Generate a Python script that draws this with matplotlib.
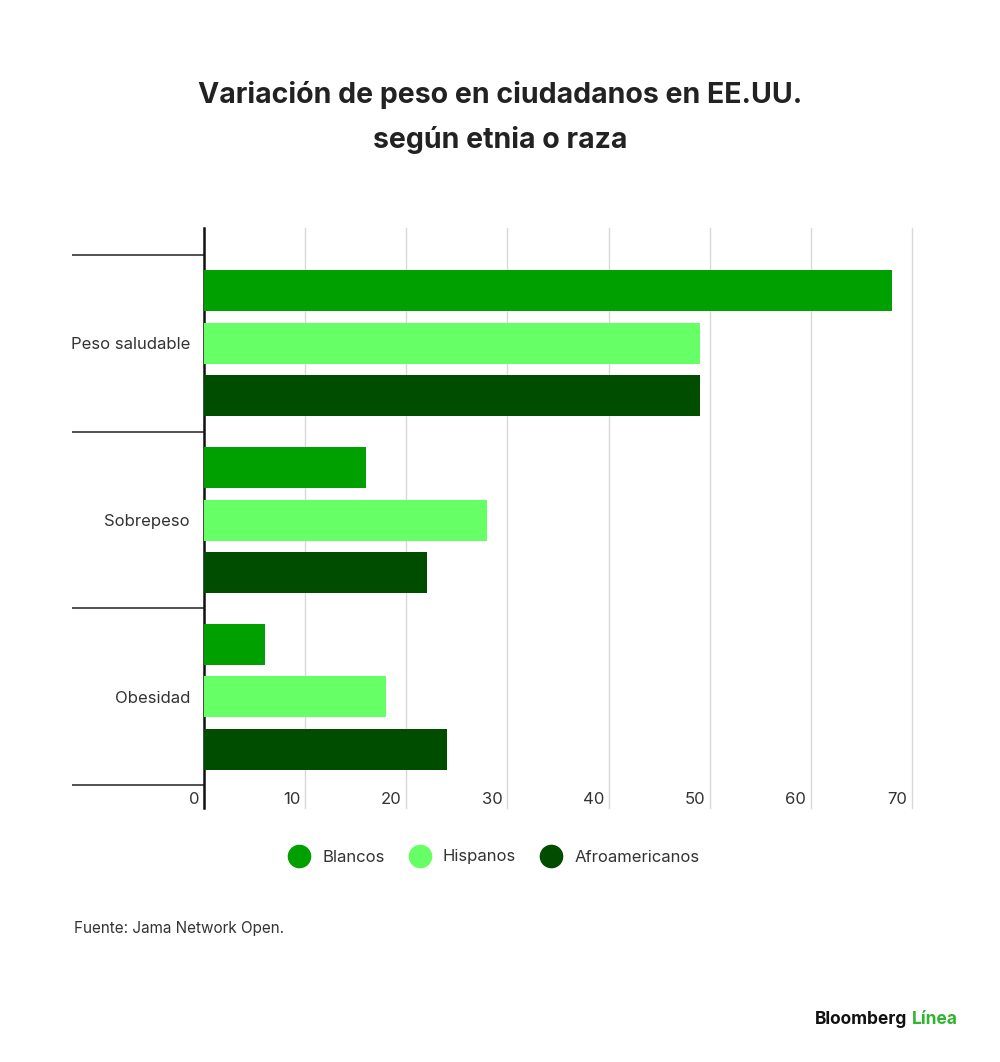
import matplotlib
matplotlib.use("Agg")
import matplotlib.pyplot as plt
from matplotlib.lines import Line2D
from matplotlib.transforms import blended_transform_factory
import numpy as np

categories = ["Peso saludable", "Sobrepeso", "Obesidad"]
series = ["Blancos", "Hispanos", "Afroamericanos"]
blancos = [68, 16, 6]
hispanos = [49, 28, 18]
afroamericanos = [49, 22, 24]
xticks = [0, 10, 20, 30, 40, 50, 60, 70]

colors = ["#00a000", "#66ff66", "#004d00"]
values = [blancos, hispanos, afroamericanos]

plt.rcParams['font.family'] = ['Inter', 'DejaVu Sans']

fig = plt.figure(figsize=(10, 10.62), dpi=100)
ax = fig.add_axes([0.204, 1 - 808 / 1062, 0.708, (808 - 228) / 1062])

y = np.arange(len(categories))
offset = 0.297
height = 0.232
for i, (vals, col, name) in enumerate(zip(values, colors, series)):
    ax.barh(y + (i - 1) * offset, vals, height=height, color=col, label=name, zorder=3)

ax.set_xlim(0, 70)
ax.set_ylim(2.63, -0.653)

# grid
ax.set_xticks(xticks)
ax.xaxis.grid(True, color="#d9d9d9", linewidth=1.0, zorder=0)
for gl in ax.get_xgridlines():
    gl.set_clip_on(False)
ax.tick_params(axis='x', length=0, labelbottom=False)

trans = blended_transform_factory(ax.transData, ax.transAxes)
for t in xticks:
    ax.text(t - 0.45, 0.014, str(t), transform=trans, ha='right', va='center',
            fontsize=12, color="#333333")

# category separators as major ticks, labels as minor ticks
ax.set_yticks(np.arange(len(categories) + 1) - 0.5)
ax.set_yticklabels([])
ax.tick_params(axis='y', which='major', length=95, width=1.1, color="#222222", direction='out')
ax.set_yticks(y, minor=True)
ax.set_yticklabels(categories, minor=True, fontsize=12, color="#333333")
ax.tick_params(axis='y', which='minor', length=0, pad=10)

for s in ["top", "right", "bottom"]:
    ax.spines[s].set_visible(False)
ax.spines["left"].set_linewidth(1.8)
ax.spines["left"].set_color("#111111")

# title
fig.text(0.5, 1 - 95 / 1062, "Variación de peso en ciudadanos en EE.UU.", ha='center', va='center',
         fontsize=20.5, fontweight='bold', color="#222222")
fig.text(0.5, 1 - 140 / 1062, "según etnia o raza", ha='center', va='center',
         fontsize=20.5, fontweight='bold', color="#222222")

# legend
handles = [Line2D([0], [0], marker='o', linestyle='none', markersize=16,
                  markerfacecolor=c, markeredgecolor=c) for c in colors]
fig.legend(handles, series, loc='center', bbox_to_anchor=(0.491, 1 - 857 / 1062),
           ncol=3, frameon=False, fontsize=12, handletextpad=0.4, columnspacing=1.1,
           labelcolor="#333333")

fig.text(0.074, 1 - 928 / 1062, "Fuente: Jama Network Open.", ha='left', va='center',
         fontsize=11, color="#333333")

# logo
t2 = fig.text(0.958, 1 - 1020 / 1062, "Línea", ha='right', va='center',
              fontsize=12.5, fontweight='bold', color="#2fb52f")
fig.canvas.draw()
bb = t2.get_window_extent(fig.canvas.get_renderer())
x_left = bb.x0 / fig.bbox.width
fig.text(x_left - 0.005, 1 - 1020 / 1062, "Bloomberg", ha='right', va='center',
         fontsize=12.5, fontweight='bold', color="#111111")

fig.savefig("out.png", dpi=100, facecolor="white")
